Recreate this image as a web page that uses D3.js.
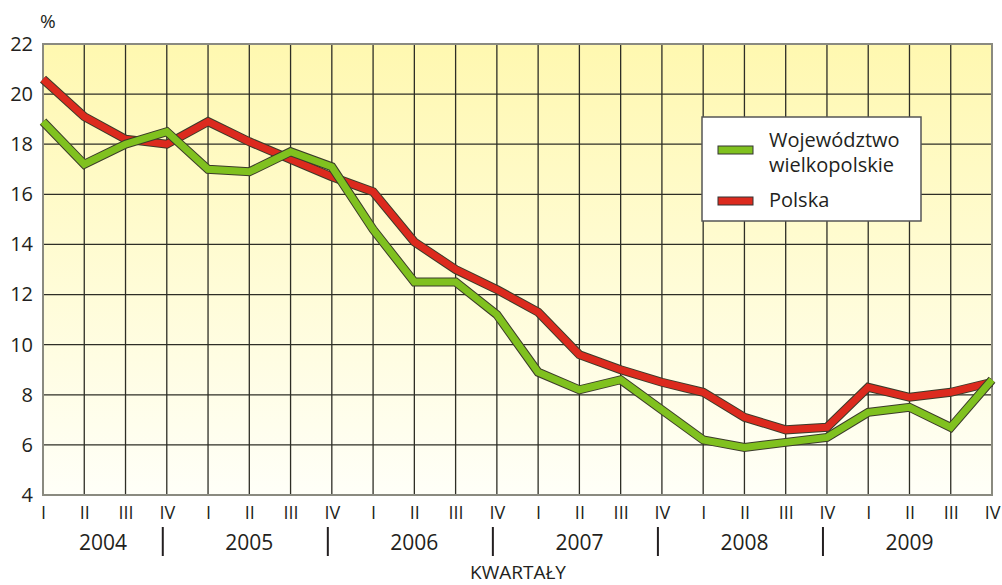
<!DOCTYPE html>
<html>
<head>
<meta charset="utf-8">
<script src="https://cdn.jsdelivr.net/npm/d3@7"></script>
<style>
  body { margin: 0; background: #fff; }
  text { font-family: "Open Sans", "Noto Sans", sans-serif; fill: #231f20; }
</style>
</head>
<body>
<div id="chart"></div>
<script>
// quarters and years
var quarters = ["I", "II", "III", "IV"];
var years = ["2004", "2005", "2006", "2007", "2008", "2009"];
var yTicks = [4, 6, 8, 10, 12, 14, 16, 18, 20, 22];

// values (%)
var wielkopolskie = [18.9, 17.2, 18.0, 18.5, 17.0, 16.9, 17.7, 17.1, 14.6, 12.5, 12.5, 11.2,
                     8.9, 8.2, 8.6, 7.4, 6.2, 5.9, 6.1, 6.3, 7.3, 7.5, 6.7, 8.6];
var polska = [20.6, 19.1, 18.2, 18.0, 18.9, 18.1, 17.4, 16.7, 16.1, 14.1, 13.0, 12.2,
              11.3, 9.6, 9.0, 8.5, 8.1, 7.1, 6.6, 6.7, 8.3, 7.9, 8.1, 8.5];

function Plot() {
    var svgWidth = 1002;
    var svgHeight = 585;
    var margin = {top: 44, right: 10, bottom: 90, left: 43};
    var width = svgWidth - margin.left - margin.right;
    var height = svgHeight - margin.top - margin.bottom;

    var svg = d3.select("#chart")
        .append("svg")
        .attr("width", svgWidth)
        .attr("height", svgHeight);

    var defs = svg.append("defs");
    var grad = defs.append("linearGradient")
        .attr("id", "bg")
        .attr("x1", 0).attr("y1", 0).attr("x2", 0).attr("y2", 1);
    grad.append("stop").attr("offset", "0%").attr("stop-color", "#fff8b0");
    grad.append("stop").attr("offset", "55%").attr("stop-color", "#fffcd8");
    grad.append("stop").attr("offset", "100%").attr("stop-color", "#fffff8");

    var chart = svg.append("g")
        .attr("transform", `translate(${margin.left}, ${margin.top})`);

    // one index per quarter
    var idx = d3.range(years.length * quarters.length);

    var x = d3.scaleLinear()
        .domain([0, idx.length - 1])
        .range([0, width]);

    var y = d3.scaleLinear()
        .domain([4, 22])
        .range([height, 0]);

    chart.append("rect")
        .attr("width", width)
        .attr("height", height)
        .attr("fill", "url(#bg)");

    // grid
    chart.selectAll(".vgrid")
        .data(idx)
        .enter()
        .append("line")
        .attr("x1", d => x(d)).attr("x2", d => x(d))
        .attr("y1", 0).attr("y2", height)
        .attr("stroke", "#2e2e26")
        .attr("stroke-width", 1.3);

    chart.selectAll(".hgrid")
        .data(yTicks)
        .enter()
        .append("line")
        .attr("x1", 0).attr("x2", width)
        .attr("y1", d => y(d)).attr("y2", d => y(d))
        .attr("stroke", "#2e2e26")
        .attr("stroke-width", 1.3);

    // frame
    chart.append("rect")
        .attr("width", width)
        .attr("height", height)
        .attr("fill", "none")
        .attr("stroke", "#8a8a80")
        .attr("stroke-width", 2);

    // y axis labels
    var yAxis = d3.axisLeft(y).tickValues(yTicks).tickSize(0).tickPadding(10);
    var gy = chart.append("g").call(yAxis);
    gy.select(".domain").remove();
    gy.selectAll("text")
        .attr("font-size", "20px")
        .attr("font-family", "\"Open Sans\", sans-serif")
        .attr("fill", "#231f20");

    svg.append("text")
        .attr("x", 40)
        .attr("y", 28)
        .attr("font-size", "19px")
        .text("%");

    // quarter labels
    var xAxis = d3.axisBottom(x).tickValues(idx).tickSize(0).tickPadding(11)
        .tickFormat(d => quarters[d % 4]);
    var gx = chart.append("g")
        .attr("transform", `translate(0, ${height})`)
        .call(xAxis);
    gx.select(".domain").remove();
    gx.selectAll("text")
        .attr("font-size", "18px")
        .attr("font-family", "\"Open Sans\", sans-serif")
        .attr("fill", "#231f20");

    // year labels, first one sits between the axis and the first separator
    chart.selectAll(".year")
        .data(years)
        .enter()
        .append("text")
        .attr("x", (d, i) => i === 0 ? (x(0) + x(3) - 4) / 2 : x(i * 4 + 1))
        .attr("y", height + 55)
        .attr("text-anchor", "middle")
        .attr("font-size", "21px")
        .text(d => d);

    // year separators
    chart.selectAll(".sep")
        .data(years.slice(1))
        .enter()
        .append("line")
        .attr("x1", (d, i) => x(i * 4 + 3) - 4)
        .attr("x2", (d, i) => x(i * 4 + 3) - 4)
        .attr("y1", height + 32)
        .attr("y2", height + 61)
        .attr("stroke", "#231f20")
        .attr("stroke-width", 2);

    svg.append("text")
        .attr("x", 518)
        .attr("y", 579)
        .attr("text-anchor", "middle")
        .attr("font-size", "19px")
        .text("KWARTAŁY");

    // series lines with dark outline
    var line = d3.line()
        .x((d, i) => x(i))
        .y(d => y(d));

    var series = [
        {name: "Polska", values: polska, color: "#dc2a1e"},
        {name: "Województwo wielkopolskie", values: wielkopolskie, color: "#80c11f"}
    ];

    series.forEach(function(s) {
        chart.append("path")
            .datum(s.values)
            .attr("d", line)
            .attr("fill", "none")
            .attr("stroke", "#3b3b2a")
            .attr("stroke-width", 9)
            .attr("stroke-linejoin", "miter");
        chart.append("path")
            .datum(s.values)
            .attr("d", line)
            .attr("fill", "none")
            .attr("stroke", s.color)
            .attr("stroke-width", 7)
            .attr("stroke-linejoin", "miter");
    });

    // legend
    var legend = svg.append("g").attr("transform", "translate(702, 117)");
    legend.append("rect")
        .attr("width", 219)
        .attr("height", 104)
        .attr("fill", "#fff")
        .attr("stroke", "#555")
        .attr("stroke-width", 1.5);

    legend.append("rect")
        .attr("x", 16).attr("y", 29)
        .attr("width", 35).attr("height", 8)
        .attr("fill", "#80c11f")
        .attr("stroke", "#333");
    legend.append("text")
        .attr("x", 67).attr("y", 30)
        .attr("font-size", "20px")
        .text("Województwo");
    legend.append("text")
        .attr("x", 67).attr("y", 55)
        .attr("font-size", "20px")
        .text("wielkopolskie");

    legend.append("rect")
        .attr("x", 16).attr("y", 80)
        .attr("width", 35).attr("height", 8)
        .attr("fill", "#dc2a1e")
        .attr("stroke", "#333");
    legend.append("text")
        .attr("x", 67).attr("y", 90)
        .attr("font-size", "20px")
        .text("Polska");
}

Plot();
</script>
</body>
</html>
